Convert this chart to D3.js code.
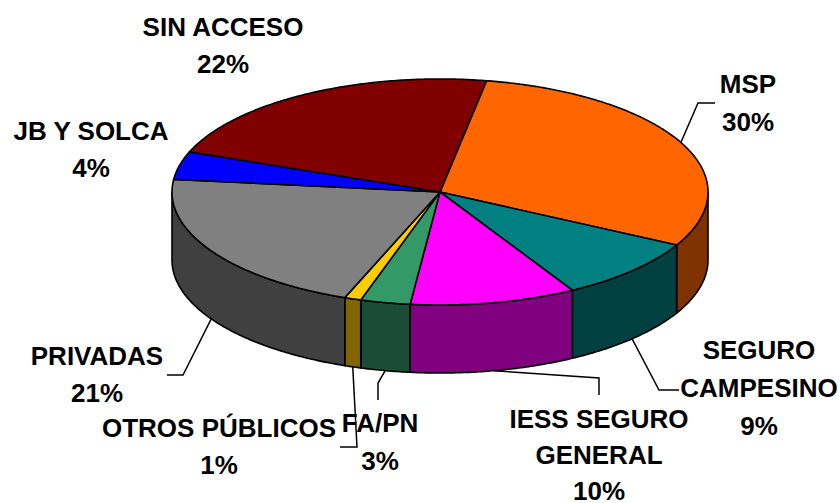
<!DOCTYPE html>
<html>
<head>
<meta charset="utf-8">
<script src="https://cdn.jsdelivr.net/npm/d3@7/dist/d3.min.js"></script>
<style>
  html, body { margin: 0; padding: 0; background: #fff; }
  svg { display: block; }
</style>
</head>
<body>
<svg id="chart" width="840" height="503"></svg>
<script>
// ---- data ----
const categories = ["MSP", "SEGURO CAMPESINO", "IESS SEGURO GENERAL", "FA/PN", "OTROS PÚBLICOS", "PRIVADAS", "JB Y SOLCA", "SIN ACCESO"];
const values = [30, 9, 10, 3, 1, 21, 4, 22];
const percentLabels = ["30%", "9%", "10%", "3%", "1%", "21%", "4%", "22%"];
const labelLines = [["MSP"], ["SEGURO", "CAMPESINO"], ["IESS SEGURO", "GENERAL"], ["FA/PN"], ["OTROS PÚBLICOS"], ["PRIVADAS"], ["JB Y SOLCA"], ["SIN ACCESO"]];
const topColors = ["#FF6600", "#008080", "#FF00FF", "#339966", "#FFCC00", "#808080", "#0000FF", "#800000"];
const sideColors = ["#803300", "#004040", "#800080", "#1A4D33", "#806600", "#404040", "#000080", "#400000"];

// ---- layout ----
const W = 840, H = 503;
const cx = 440, cy = 192, rx = 268, ry = 113, depth = 68;
const startDeg = 10;
// label layout: text centre x, first baseline y, line height, leader (elbow, end) or null, leader anchored on top edge?
const labelLayout = [
  { x: 748, y: 93, lh: 38, elbow: [698, 103], end: [715, 103], onTop: true },
  { x: 759, y: 359, lh: 38, elbow: [659, 390], end: [679, 390], onTop: false },
  { x: 599, y: 428, lh: 36, elbow: [599, 378], end: [599, 395], onTop: false },
  { x: 380, y: 432, lh: 38, elbow: [378, 383], end: [378, 400], onTop: false },
  { x: 219, y: 437, lh: 37, elbow: [357, 447], end: [340, 447], onTop: false },
  { x: 97, y: 365, lh: 37, elbow: [183, 375], end: [167, 375], onTop: false },
  { x: 91, y: 140, lh: 37, elbow: null, end: null, onTop: true },
  { x: 223, y: 36, lh: 37, elbow: null, end: null, onTop: true }
];

const svg = d3.select("#chart");
const data = categories.map((c, i) => ({ name: c, value: values[i], i }));

const start = startDeg * Math.PI / 180;
const pie = d3.pie().sort(null).value(d => d.value).startAngle(start).endAngle(start + 2 * Math.PI);
const arcs = pie(data);

// projection of angle (clockwise from 12 o'clock) onto ellipse
const px = a => cx + rx * Math.sin(a);
const py = (a, dz) => cy - ry * Math.cos(a) + (dz || 0);

function ellipsePoints(a0, a1, dz) {
  const n = Math.max(2, Math.ceil(Math.abs(a1 - a0) / 0.01));
  const pts = [];
  for (let k = 0; k <= n; k++) {
    const a = a0 + (a1 - a0) * k / n;
    pts.push([px(a), py(a, dz)]);
  }
  return pts;
}

const line = d3.line();

// ---- side walls (visible front half: angle PI/2 .. 3PI/2, modulo 2PI) ----
const sideG = svg.append("g");
arcs.forEach(d => {
  // check both the arc itself and shifted by 2PI
  [0, -2 * Math.PI, 2 * Math.PI].forEach(shift => {
    const a0 = Math.max(d.startAngle + shift, Math.PI / 2);
    const a1 = Math.min(d.endAngle + shift, 3 * Math.PI / 2);
    if (a1 > a0 + 1e-6) {
      const topPts = ellipsePoints(a0, a1, 0);
      const botPts = ellipsePoints(a1, a0, depth);
      sideG.append("path")
        .attr("d", line(topPts.concat(botPts)) + "Z")
        .attr("fill", sideColors[d.data.i])
        .attr("stroke", "#000")
        .attr("stroke-width", 1.6)
        .attr("stroke-linejoin", "round");
    }
  });
});

// ---- top faces ----
const topG = svg.append("g");
arcs.forEach(d => {
  const pts = [[cx, cy]].concat(ellipsePoints(d.startAngle, d.endAngle, 0));
  topG.append("path")
    .attr("d", line(pts) + "Z")
    .attr("fill", topColors[d.data.i])
    .attr("stroke", "#000")
    .attr("stroke-width", 1.6)
    .attr("stroke-linejoin", "round");
});

// ---- leader lines ----
const leadG = svg.append("g");
arcs.forEach(d => {
  const L = labelLayout[d.data.i];
  if (!L.elbow) return;
  const mid = (d.startAngle + d.endAngle) / 2;
  const anchor = [px(mid), py(mid, L.onTop ? 0 : depth)];
  leadG.append("path")
    .attr("d", line([anchor, L.elbow, L.end]))
    .attr("fill", "none")
    .attr("stroke", "#000")
    .attr("stroke-width", 1.5);
});

// ---- labels ----
const labG = svg.append("g")
  .attr("font-family", "'Liberation Sans', Arial, Helvetica, sans-serif")
  .attr("font-weight", "bold")
  .attr("font-size", 26)
  .attr("fill", "#000")
  .attr("text-anchor", "middle");

arcs.forEach(d => {
  const i = d.data.i;
  const L = labelLayout[i];
  const lines = labelLines[i].concat([percentLabels[i]]);
  const t = labG.append("text").attr("x", L.x).attr("y", L.y);
  lines.forEach((s, k) => {
    t.append("tspan").attr("x", L.x).attr("y", L.y + k * L.lh).text(s);
  });
});
</script>
</body>
</html>
